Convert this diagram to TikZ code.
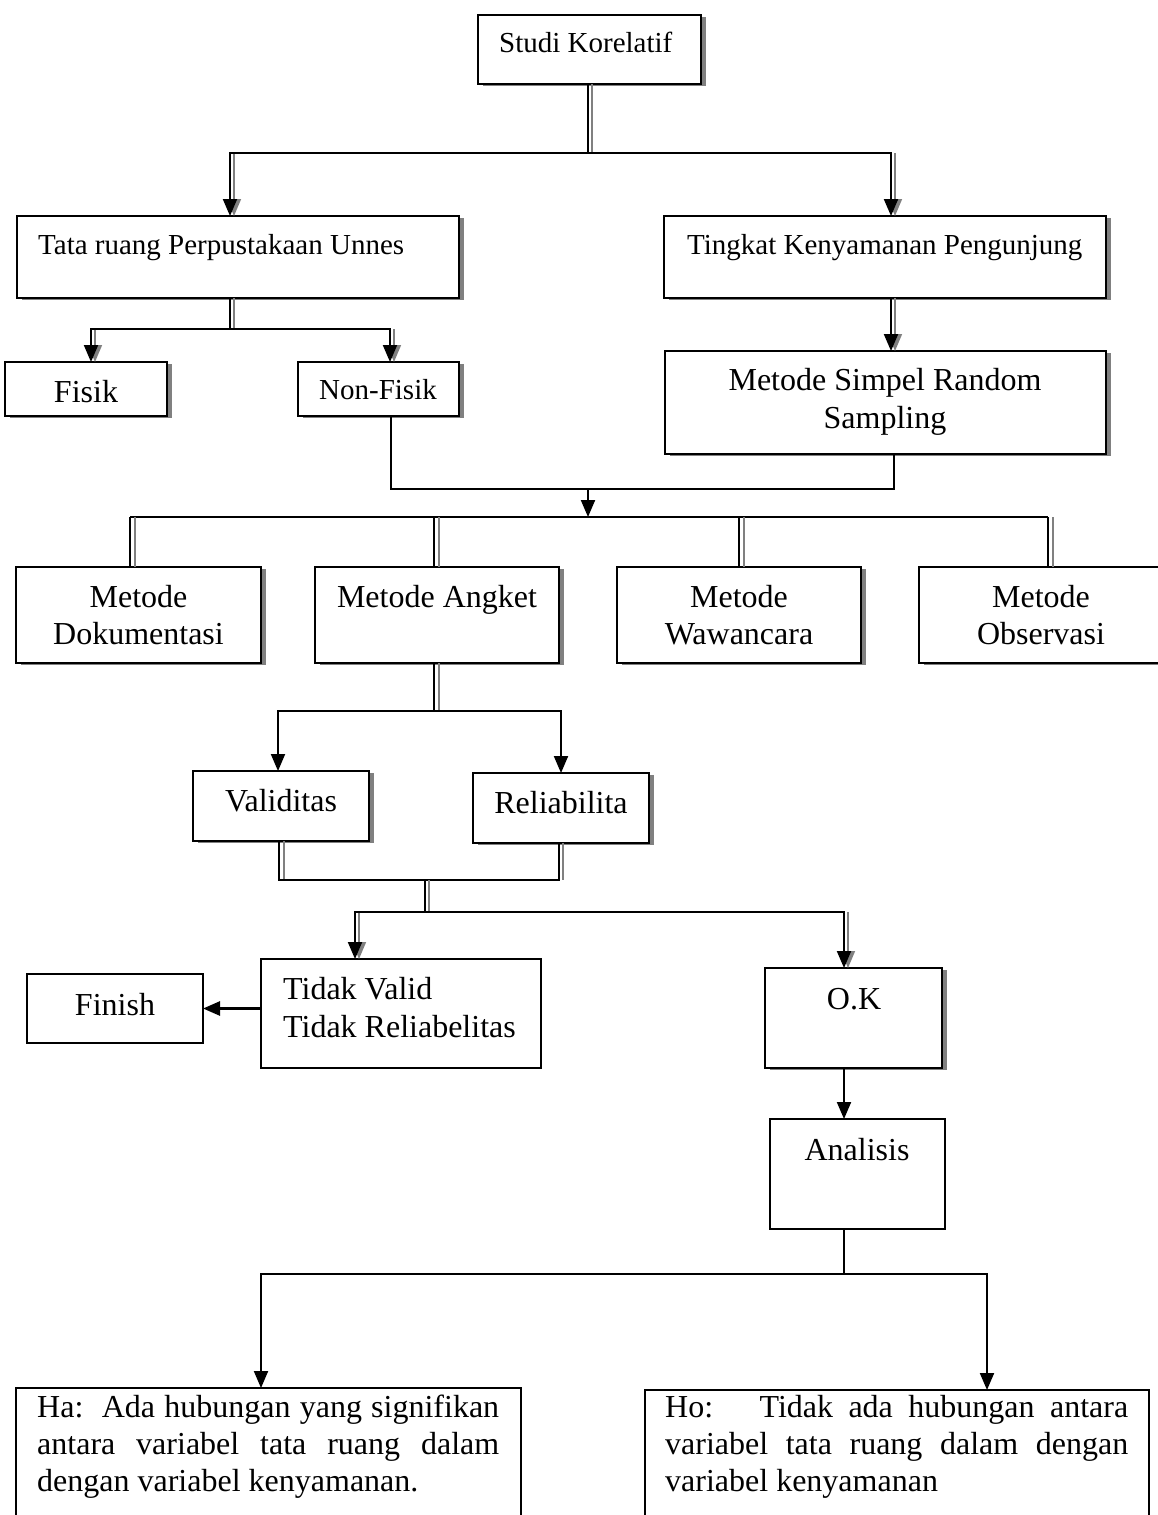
\documentclass[tikz,border=0pt]{standalone}
\usepackage{fontspec}
\setmainfont{Liberation Serif}
\usetikzlibrary{arrows.meta,shadows}
\begin{document}
\begin{tikzpicture}[x=1pt,y=-1pt,
 box/.style={draw=black, line width=2pt, fill=white, inner sep=0pt, outer sep=0pt, anchor=north west},
 shd/.style={drop shadow={shadow xshift=4.5pt, shadow yshift=-2pt, fill=gray, opacity=1}},
 big/.style={font=\fontsize{32}{36}\selectfont, inner sep=0pt},
 sml/.style={font=\fontsize{29}{34}\selectfont, inner sep=0pt},
 ln/.style={line width=2pt, draw=black},
 gl/.style={line width=1.6pt, draw=gray},
 arw/.style={-{Triangle[width=14pt,length=17pt]}}
]
\useasboundingbox (0,0) rectangle (1158,1515);
\clip (0,0) rectangle (1158,1515);

% boxes
\node[box,shd,minimum width=223pt,minimum height=69pt] (studi) at (478,15) {};
\node[box,shd,minimum width=442pt,minimum height=82pt] (tata) at (17,216) {};
\node[box,shd,minimum width=442pt,minimum height=82pt] (tingkat) at (664,216) {};
\node[box,shd,minimum width=441pt,minimum height=103pt] (simpel) at (665,351) {};
\node[box,shd,minimum width=162pt,minimum height=54pt] (fisik) at (5,362) {};
\node[box,shd,minimum width=161pt,minimum height=54pt] (nonfisik) at (298,362) {};
\node[box,shd,minimum width=245pt,minimum height=96pt] (dok) at (16,567) {};
\node[box,shd,minimum width=244pt,minimum height=96pt] (angket) at (315,567) {};
\node[box,shd,minimum width=244pt,minimum height=96pt] (waw) at (617,567) {};
\node[box,shd,minimum width=260pt,minimum height=96pt] (obs) at (919,567) {};
\node[box,shd,minimum width=176pt,minimum height=70pt] (valid) at (193,771) {};
\node[box,shd,minimum width=176pt,minimum height=70pt] (reli) at (473,773) {};
\node[box,minimum width=280pt,minimum height=109pt] (tidak) at (261,959) {};
\node[box,minimum width=176pt,minimum height=69pt] (finish) at (27,974) {};
\node[box,shd,minimum width=177pt,minimum height=100pt] (ok) at (765,968) {};
\node[box,minimum width=175pt,minimum height=110pt] (analisis) at (770,1119) {};
\node[box,minimum width=505pt,minimum height=200pt] (ha) at (16,1388) {};
\node[box,minimum width=504pt,minimum height=200pt] (ho) at (645,1390) {};

% texts
\node[sml,anchor=base west] (tstudi) at (499,52) {Studi Korelatif};
\node[sml,anchor=base west] (ttata) at (38,254) {Tata ruang Perpustakaan Unnes};
\node[sml,anchor=base west] (ttingkat) at (687,254) {Tingkat Kenyamanan Pengunjung};
\node[big,anchor=base] (tsimpel1) at (885,390) {Metode Simpel Random};
\node[big,anchor=base] (tsimpel2) at (885,428) {Sampling};
\node[big,anchor=base] (tfisik) at (86,402) {Fisik};
\node[sml,anchor=base] (tnonfisik) at (378,399) {Non-Fisik};
\node[big,anchor=base] (tdok1) at (138.5,607) {Metode};
\node[big,anchor=base] (tdok2) at (138.5,644) {Dokumentasi};
\node[big,anchor=base] (tangket) at (437,607) {Metode Angket};
\node[big,anchor=base] (twaw1) at (739,607) {Metode};
\node[big,anchor=base] (twaw2) at (739,644) {Wawancara};
\node[big,anchor=base] (tobs1) at (1041,607) {Metode};
\node[big,anchor=base] (tobs2) at (1041,644) {Observasi};
\node[big,anchor=base] (tvalid) at (281,811) {Validitas};
\node[big,anchor=base] (treli) at (561,813) {Reliabilita};
\node[big,anchor=base west] (ttidak1) at (283,999.5) {Tidak Valid};
\node[big,anchor=base west] (ttidak2) at (283,1037) {Tidak Reliabelitas};
\node[big,anchor=base] (tfinish) at (115,1015) {Finish};
\node[big,anchor=base] (tok) at (854,1009) {O.K};
\node[big,anchor=base] (tanalisis) at (857,1160) {Analisis};
\node[big,anchor=base west] (tha1) at (37,1417) {\makebox[462pt][s]{Ha:\ \ Ada hubungan yang signifikan}};
\node[big,anchor=base west] (tha2) at (37,1454) {\makebox[462pt][s]{antara variabel tata ruang dalam}};
\node[big,anchor=base west] (tha3) at (37,1491) {dengan variabel kenyamanan.};
\node[big,anchor=base west] (tho1) at (665,1417) {\makebox[463pt][s]{Ho:\ \ \ Tidak ada hubungan antara}};
\node[big,anchor=base west] (tho2) at (665,1454) {\makebox[463pt][s]{variabel tata ruang dalam dengan}};
\node[big,anchor=base west] (tho3) at (665,1491) {variabel kenyamanan};

% junction coordinates
\coordinate (jA) at (588,153);  \coordinate (jAg) at (592,153);
\coordinate (jL) at (230,153);  \coordinate (jLg) at (234,153);
\coordinate (jR) at (891,153);  \coordinate (jRg) at (895,153);
\coordinate (tB) at (230,329);  \coordinate (tBg) at (234,329);
\coordinate (fL) at (91,329);   \coordinate (fLg) at (95,329);
\coordinate (fR) at (390,329);  \coordinate (fRg) at (394,329);
\coordinate (m1) at (391,489);  \coordinate (m2) at (894,489);
\coordinate (m3) at (588,489);  \coordinate (h4) at (588,517);
\coordinate (b1) at (130,517);  \coordinate (b1g) at (135,517);
\coordinate (b2) at (434,517);  \coordinate (b2g) at (439,517);
\coordinate (b3) at (739,517);  \coordinate (b3g) at (744,517);
\coordinate (b4) at (1048,517); \coordinate (b4g) at (1053,517);
\coordinate (p1) at (434,711);  \coordinate (p1g) at (439,711);
\coordinate (vL) at (278,711);  \coordinate (vR) at (561,711);
\coordinate (q1) at (279,880);  \coordinate (q1g) at (284,880);
\coordinate (q2) at (559,880);  \coordinate (q2g) at (563,880);
\coordinate (r1) at (425,880);  \coordinate (r1g) at (429,880);
\coordinate (r2) at (425,912);  \coordinate (r2g) at (429,912);
\coordinate (tL) at (355,912);  \coordinate (tLg) at (359,912);
\coordinate (tR) at (844,912);  \coordinate (tRg) at (848,912);
\coordinate (u1) at (844,1274);
\coordinate (uL) at (261,1274); \coordinate (uR) at (987,1274);

% Studi -> Tata / Tingkat
\draw[gl] (studi.south -| jAg) -- (jAg);
\draw[gl,arw] (jLg) -- (jLg |- tata.north);
\draw[gl,arw] (jRg) -- (jRg |- tingkat.north);
\draw[ln] (studi.south -| jA) -- (jA);
\draw[ln,arw] (jA) -- (jL) -- (jL |- tata.north);
\draw[ln,arw] (jA) -- (jR) -- (jR |- tingkat.north);

% Tata -> Fisik / Non-Fisik
\draw[gl] (tata.south -| tBg) -- (tBg);
\draw[gl,arw] (fLg) -- (fLg |- fisik.north);
\draw[gl,arw] (fRg) -- (fRg |- nonfisik.north);
\draw[ln] (tata.south -| tB) -- (tB);
\draw[ln,arw] (tB) -- (fL) -- (fL |- fisik.north);
\draw[ln,arw] (tB) -- (fR) -- (fR |- nonfisik.north);

% Tingkat -> Simpel
\draw[gl,arw] (tingkat.south -| jRg) -- (simpel.north -| jRg);
\draw[ln,arw] (tingkat.south -| jR) -- (simpel.north -| jR);

% Non-Fisik + Simpel -> methods
\draw[ln] (nonfisik.south -| m1) -- (m1) -- (m2) -- (simpel.south -| m2);
\draw[ln,arw] (m3) -- (h4);
\draw[ln] (b1) -- (b4);
\draw[gl] (b1g) -- (b1g |- dok.north);
\draw[gl] (b2g) -- (b2g |- angket.north);
\draw[gl] (b3g) -- (b3g |- waw.north);
\draw[gl] (b4g) -- (b4g |- obs.north);
\draw[ln] (b1) -- (b1 |- dok.north);
\draw[ln] (b2) -- (b2 |- angket.north);
\draw[ln] (b3) -- (b3 |- waw.north);
\draw[ln] (b4) -- (b4 |- obs.north);

% Angket -> Validitas / Reliabilita
\draw[gl] (angket.south -| p1g) -- (p1g);
\draw[ln] (angket.south -| p1) -- (p1);
\draw[ln,arw] (p1) -- (vL) -- (vL |- valid.north);
\draw[ln,arw] (p1) -- (vR) -- (vR |- reli.north);

% Validitas / Reliabilita -> Tidak Valid / O.K
\draw[gl] (valid.south -| q1g) -- (q1g);
\draw[gl] (reli.south -| q2g) -- (q2g);
\draw[ln] (valid.south -| q1) -- (q1) -- (q2) -- (reli.south -| q2);
\draw[gl] (r1g) -- (r2g);
\draw[ln] (r1) -- (r2);
\draw[gl,arw] (tLg) -- (tLg |- tidak.north);
\draw[gl,arw] (tRg) -- (tRg |- ok.north);
\draw[ln,arw] (r2) -- (tL) -- (tL |- tidak.north);
\draw[ln,arw] (r2) -- (tR) -- (tR |- ok.north);

% Tidak Valid -> Finish
\draw[ln,line width=2.6pt,arw] (finish.east -| tidak.west) -- (finish.east);

% O.K -> Analisis -> Ha / Ho
\draw[ln,arw] (ok.south -| tR) -- (analisis.north -| tR);
\draw[ln] (analisis.south -| u1) -- (u1);
\draw[ln,arw] (u1) -- (uL) -- (uL |- ha.north);
\draw[ln,arw] (u1) -- (uR) -- (uR |- ho.north);
\end{tikzpicture}
\end{document}
